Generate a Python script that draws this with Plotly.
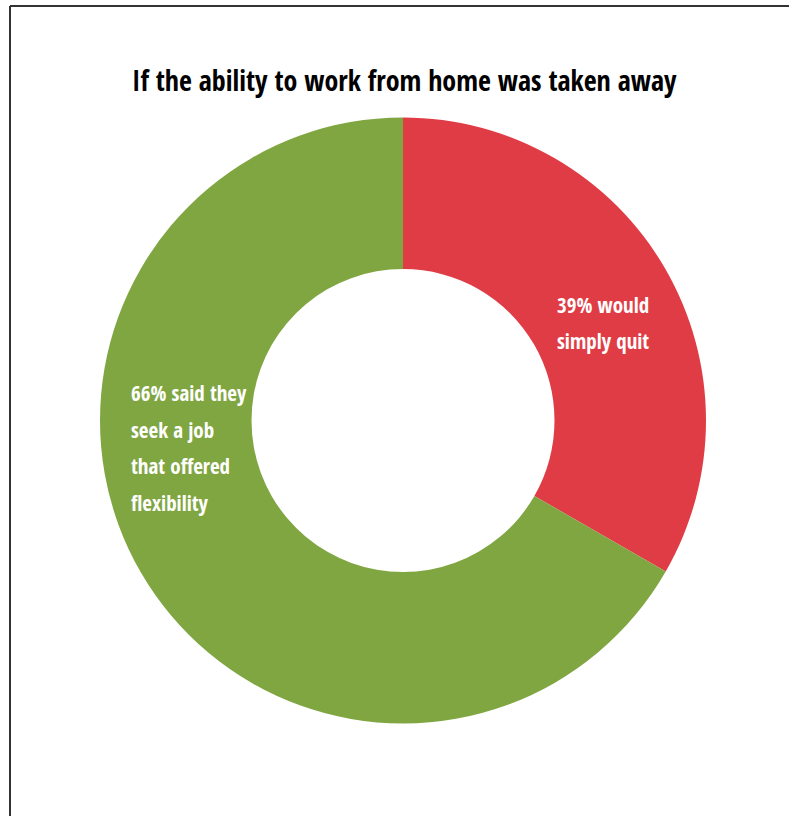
import plotly.graph_objects as go

# Data
categories = ["Would simply quit", "Seek a job that offered flexibility"]
values = [33.3, 66.7]          # slice sizes as drawn
colors = ["#E03C45", "#80A642"]
title_text = "If the ability to work from home was taken away"
label_lines = [
    ["39% would", "simply quit"],
    ["66% said they", "seek a job", "that offered", "flexibility"],
]

W, H = 789, 816
FONT = "Open Sans Condensed, Roboto Condensed, sans-serif"

fig = go.Figure(go.Pie(
    labels=categories,
    values=values,
    hole=0.5,
    sort=False,
    direction="clockwise",
    rotation=0,
    marker=dict(colors=colors, line=dict(width=0)),
    textinfo="none",
    hoverinfo="label+percent",
    showlegend=False,
    domain=dict(x=[100 / W, 706 / W], y=[1 - 723.5 / H, 1 - 117.5 / H]),
))

annotations = [dict(
    text="<b>" + title_text + "</b>", x=404 / W, y=1 - 80 / H, xref="paper", yref="paper",
    xanchor="center", yanchor="middle", showarrow=False,
    font=dict(family=FONT, size=28, color="#000000"),
)]

# label anchor positions (pixels): left x, first-line y, line spacing
label_pos = [(555, 305, 36), (129, 393, 36.7)]
for lines, (lx, ly, dy) in zip(label_lines, label_pos):
    for i, line in enumerate(lines):
        annotations.append(dict(
            text="<b>" + line + "</b>", x=lx / W, y=1 - (ly + i * dy) / H,
            xref="paper", yref="paper", xanchor="left", yanchor="middle",
            showarrow=False, font=dict(family=FONT, size=21, color="#FFFFFF"),
        ))

shapes = [
    dict(type="line", xref="paper", yref="paper", x0=10 / W, x1=10 / W, y0=-0.1, y1=1 - 6 / H,
         line=dict(color="#333333", width=2)),
    dict(type="line", xref="paper", yref="paper", x0=10 / W, x1=1.1, y0=1 - 6 / H, y1=1 - 6 / H,
         line=dict(color="#333333", width=2)),
]

fig.update_layout(
    width=W, height=H,
    margin=dict(l=0, r=0, t=0, b=0),
    paper_bgcolor="#FFFFFF", plot_bgcolor="#FFFFFF",
    annotations=annotations, shapes=shapes,
)

fig.write_html("out.html", config={"displayModeBar": False},
               post_script="document.body.style.margin='0';")
